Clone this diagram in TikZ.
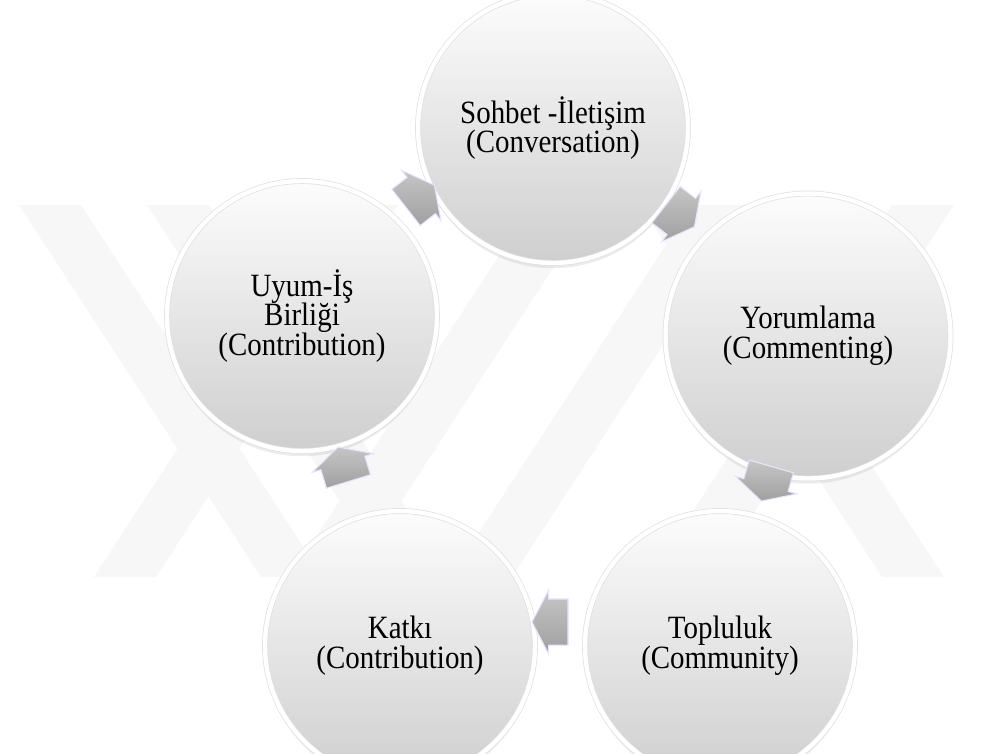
\documentclass[tikz,border=0pt]{standalone}
\usepackage{fontspec}
\setmainfont{Liberation Serif}[FakeStretch=0.89]
\usetikzlibrary{shapes.arrows,shadows,calc}

\begin{document}
\begin{tikzpicture}[x=0.02cm, y=-0.02cm,
    stage/.style={circle, minimum size=5.4cm, align=center, font=\fontsize{18.5}{17}\selectfont,
        top color=gray!2, bottom color=gray!38, draw=gray!25, double=white, double distance=2.5pt,
        drop shadow={opacity=0.15, shadow xshift=0pt, shadow yshift=-3pt}},
    flow/.style={single arrow, minimum height=0.72cm, inner xsep=0pt, inner ysep=0.45cm,
        single arrow head extend=0.18cm, single arrow tip angle=125,
        top color=gray!45, bottom color=gray!75, draw=blue!10!white, line width=0.6pt},
    band/.style={fill=gray!6}]
    \useasboundingbox (0,0) rectangle (981,754);
    \clip (0,0) rectangle (981,754);

    % watermark
    \begin{scope}
        \clip (0,205) rectangle (981,577);
        \foreach \x in {19,147,640}
            \fill[band] (\x,205) -- ++(62,0) -- ++(242,372) -- ++(-62,0) -- cycle;
        \foreach \x in {94,290,450,650}
            \fill[band] (\x,577) -- ++(62,0) -- ++(242,-372) -- ++(-62,0) -- cycle;
    \end{scope}

    \node[stage] (conv) at (553,128) {Sohbet -İletişim\\(Conversation)};
    \node[stage, minimum size=5.7cm] (comm) at (808,336) {Yorumlama\\(Commenting)};
    \node[stage] (cmty) at (720,646) {Topluluk\\(Community)};
    \node[stage] (ctrb) at (400,646) {Katkı\\(Contribution)};
    \node[stage] (harm) at (302,316) {Uyum-İş\\Birliği\\(Contribution)};

    \node[flow, rotate=38] (a1) at ($(harm)!0.5!(conv)+(-12,-22)$) {};
    \node[flow, rotate=-38] (a2) at ($(conv)!0.5!(comm)+(-5,-20)$) {};
    \node[flow, rotate=-106] (a3) at ($(comm)!0.5!(cmty)+(4,-13)$) {};
    \node[flow, rotate=180] (a4) at ($(cmty)!0.5!(ctrb)+(-4,-24)$) {};
    \node[flow, rotate=107] (a5) at ($(ctrb)!0.5!(harm)+(-6,-11)$) {};
\end{tikzpicture}
\end{document}
